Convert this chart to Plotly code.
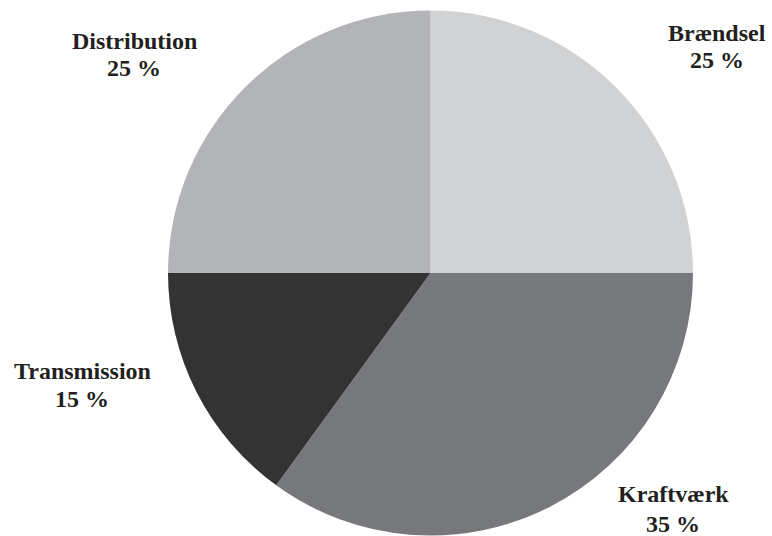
import plotly.graph_objects as go

# Data
labels = ["Brændsel", "Kraftværk", "Transmission", "Distribution"]
values = [25, 35, 15, 25]
colors = ["#d1d2d4", "#77787b", "#333333", "#b3b4b8"]

W, H = 772, 536
cx, cy, r = 430.5, 273, 262.5

fig = go.Figure(go.Pie(
    labels=labels,
    values=values,
    sort=False,
    direction="clockwise",
    rotation=0,
    textinfo="none",
    hoverinfo="label+percent",
    marker=dict(colors=colors, line=dict(width=0)),
    domain=dict(x=[(cx - r) / W, (cx + r) / W],
                y=[(H - cy - r) / H, (H - cy + r) / H]),
    showlegend=False,
))

# label positions (pixel centers of line 1) - layout only
label_pos = [(717, 33), (673, 494), (82, 371), (134, 41)]
line_gaps = [27, 30, 28, 27]
font = dict(family="Liberation Serif, Times New Roman, serif", size=24, color="#231f20")

annotations = []
for lab, val, (px, py), gap in zip(labels, values, label_pos, line_gaps):
    annotations.append(dict(x=px / W, y=1 - py / H, xref="paper", yref="paper",
                            text=f"<b>{lab}</b>", showarrow=False, font=font,
                            xanchor="center", yanchor="middle"))
    annotations.append(dict(x=px / W, y=1 - (py + gap) / H, xref="paper", yref="paper",
                            text=f"<b>{val} %</b>", showarrow=False, font=font,
                            xanchor="center", yanchor="middle"))

fig.update_layout(
    width=W, height=H,
    margin=dict(l=0, r=0, t=0, b=0),
    paper_bgcolor="white", plot_bgcolor="white",
    annotations=annotations,
)

fig.write_html("out.html",
               config={"displayModeBar": False},
               post_script="document.body.style.margin='0';document.body.style.overflow='hidden';")
